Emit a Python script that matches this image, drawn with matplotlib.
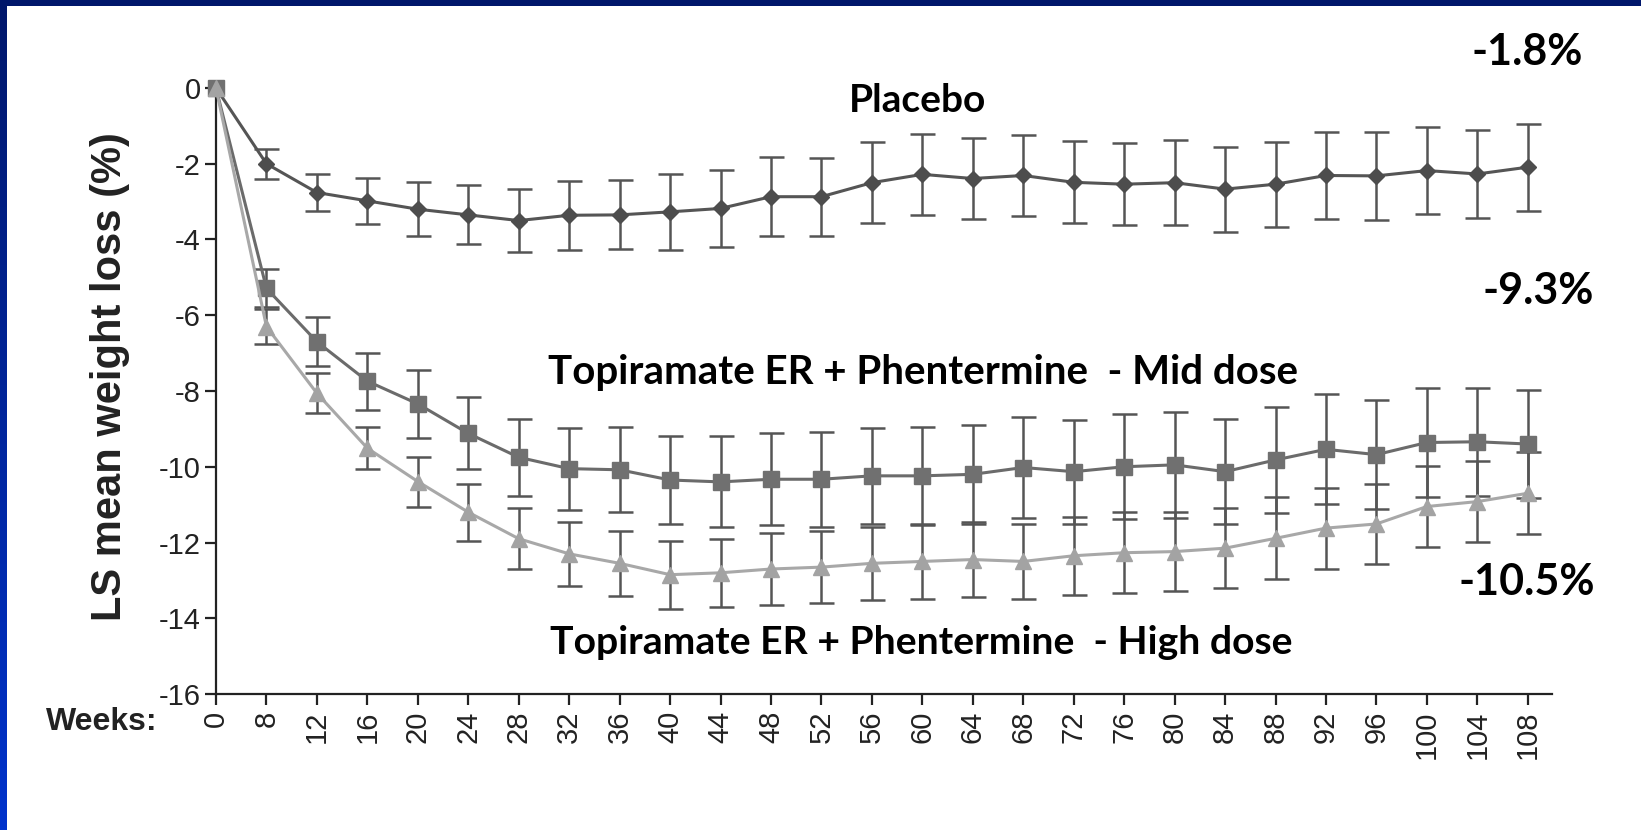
import matplotlib.pyplot as plt
from matplotlib.colors import LinearSegmentedColormap
import numpy as np

weeks = [0, 8, 12, 16, 20, 24, 28, 32, 36, 40, 44, 48, 52, 56, 60, 64, 68,
         72, 76, 80, 84, 88, 92, 96, 100, 104, 108]

placebo = [0, -2.00, -2.76, -2.98, -3.20, -3.35, -3.50, -3.36, -3.35, -3.27,
           -3.18, -2.87, -2.87, -2.50, -2.28, -2.39, -2.31, -2.49, -2.54,
           -2.50, -2.67, -2.54, -2.31, -2.32, -2.18, -2.27, -2.09]
placebo_err = [0, 0.40, 0.50, 0.61, 0.71, 0.78, 0.84, 0.91, 0.91, 1.01, 1.01,
               1.04, 1.03, 1.07, 1.07, 1.06, 1.07, 1.08, 1.08, 1.12, 1.12,
               1.12, 1.16, 1.16, 1.15, 1.15, 1.15]

mid = [0, -5.29, -6.70, -7.74, -8.34, -9.12, -9.75, -10.05, -10.08, -10.35,
       -10.40, -10.33, -10.33, -10.24, -10.24, -10.20, -10.02, -10.13, -10.00,
       -9.95, -10.13, -9.82, -9.54, -9.68, -9.36, -9.34, -9.40]
mid_err = [0, 0.50, 0.65, 0.75, 0.89, 0.95, 1.01, 1.08, 1.12, 1.16, 1.20,
           1.22, 1.25, 1.26, 1.30, 1.31, 1.34, 1.37, 1.39, 1.40, 1.39, 1.40,
           1.45, 1.44, 1.43, 1.43, 1.43]

high = [0, -6.30, -8.06, -9.51, -10.39, -11.20, -11.90, -12.30, -12.55, -12.85,
        -12.80, -12.70, -12.65, -12.55, -12.50, -12.45, -12.50, -12.35, -12.27,
        -12.24, -12.15, -11.89, -11.62, -11.51, -11.05, -10.92, -10.70]
high_err = [0, 0.47, 0.53, 0.56, 0.66, 0.75, 0.80, 0.85, 0.85, 0.90, 0.90,
            0.95, 0.95, 0.97, 0.98, 1.00, 1.00, 1.03, 1.07, 1.05, 1.06, 1.08,
            1.07, 1.06, 1.07, 1.07, 1.08]

yticks = [0, -2, -4, -6, -8, -10, -12, -14, -16]

plt.rcParams['font.family'] = ['Liberation Sans', 'DejaVu Sans']

fig = plt.figure(figsize=(16.41, 8.30), dpi=100)
fig.patch.set_facecolor('white')

# blue slide frame (top and left edges)
bg = fig.add_axes([0, 0, 1, 1], zorder=-10)
bg.axis('off')
bg.set_xlim(0, 1)
bg.set_ylim(0, 1)
frame = LinearSegmentedColormap.from_list('frame', ['#0033cc', '#00176b'])
grad = np.linspace(0, 1, 256).reshape(-1, 1)
bg.imshow(grad, cmap=frame, extent=[0, 7 / 1641, 0, 1], aspect='auto', origin='lower')
bg.imshow([[0, 0]], cmap=LinearSegmentedColormap.from_list('t', ['#00176b', '#00176b']),
          extent=[0, 1, 1 - 6 / 830, 1], aspect='auto')

ax = fig.add_axes([216 / 1641, 1 - 694 / 830, (1552 - 216) / 1641, (694 - 88) / 830])
x = np.arange(len(weeks))

ebar = dict(fmt='none', ecolor='#555555', elinewidth=1.8, capsize=9, capthick=1.8)
ax.errorbar(x[1:], placebo[1:], yerr=placebo_err[1:], **ebar)
ax.errorbar(x[1:], mid[1:], yerr=mid_err[1:], **ebar)
ax.errorbar(x[1:], high[1:], yerr=high_err[1:], **ebar)

ax.plot(x, placebo, color='#555555', lw=2.2, marker='D', ms=8,
        mfc='#4d4d4d', mec='#4d4d4d', clip_on=False, zorder=5)
ax.plot(x, mid, color='#6b6b6b', lw=2.2, marker='s', ms=12,
        mfc='#707070', mec='#707070', clip_on=False, zorder=6)
ax.plot(x, high, color='#a8a8a8', lw=2.2, marker='^', ms=12,
        mfc='#a3a3a3', mec='#a3a3a3', clip_on=False, zorder=7)

ax.set_xlim(0, 26.48)
ax.set_ylim(-16, 0)
ax.set_xticks(x)
ax.set_xticklabels([str(w) for w in weeks], rotation=90, fontsize=21, color='#222222')
ax.set_yticks(yticks)
ax.set_yticklabels([str(v) for v in yticks], fontsize=21, color='#222222')
ax.spines['top'].set_visible(False)
ax.spines['right'].set_visible(False)
for s in ['left', 'bottom']:
    ax.spines[s].set_linewidth(1.6)
    ax.spines[s].set_color('#222222')
ax.tick_params(length=8, width=1.6, color='#222222')
ax.tick_params(axis='y', pad=3)
ax.tick_params(axis='x', pad=4)

fig.text(110 / 1641, 1 - 377 / 830, 'LS mean weight loss (%)', rotation=90,
         ha='center', va='center', fontsize=30, fontweight='bold', color='#222222')
fig.text(102 / 1641, 1 - 722 / 830, 'Weeks:', ha='center', va='center',
         fontsize=23, fontweight='bold', color='#222222')

lab = dict(ha='center', va='center', fontweight='bold',
           color='black', family=['Lato', 'DejaVu Sans'])
fig.text(918 / 1641, 1 - 101 / 830, 'Placebo', fontsize=28, **lab)
fig.text(923 / 1641, 1 - 372 / 830, 'Topiramate ER + Phentermine  - Mid dose', fontsize=29, **lab)
fig.text(921 / 1641, 1 - 642 / 830, 'Topiramate ER + Phentermine  - High dose', fontsize=28.2, **lab)
fig.text(1527 / 1641, 1 - 52 / 830, '-1.8%', fontsize=31, **lab)
fig.text(1538 / 1641, 1 - 291 / 830, '-9.3%', fontsize=31, **lab)
fig.text(1527 / 1641, 1 - 582 / 830, '-10.5%', fontsize=31, **lab)

plt.savefig('out.png', dpi=100, facecolor='white')
